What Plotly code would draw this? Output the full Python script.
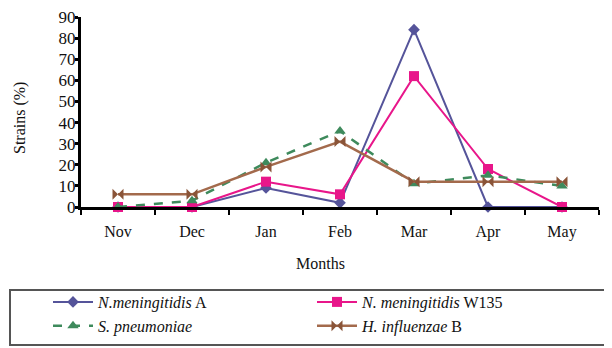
import plotly.graph_objects as go

months = ["Nov", "Dec", "Jan", "Feb", "Mar", "Apr", "May"]
nm_a = [0, 0, 9, 2, 84, 0, 0]
nm_w135 = [0, 0, 12, 6, 62, 18, 0]
s_pneu = [0, 3, 21, 36, 11, 15, 10]
h_infl = [6, 6, 19, 31, 12, 12, 12]
y_ticks = [0, 10, 20, 30, 40, 50, 60, 70, 80, 90]

FONT = "Liberation Serif"

fig = go.Figure()
fig.add_trace(go.Scatter(x=months, y=nm_a, mode="lines+markers",
    name="<i>N.meningitidis</i> A",
    line=dict(color="#55549a", width=2),
    marker=dict(symbol="diamond", size=9, color="#55549a")))
fig.add_trace(go.Scatter(x=months, y=nm_w135, mode="lines+markers",
    name="<i>N. meningitidis</i> W135",
    line=dict(color="#e8168a", width=2),
    marker=dict(symbol="square", size=10, color="#e8168a")))
fig.add_trace(go.Scatter(x=months, y=s_pneu, mode="lines+markers",
    name="<i>S. pneumoniae</i>",
    line=dict(color="#3e8a5c", width=2.5, dash="dash"),
    marker=dict(symbol="triangle-up", size=10, color="#3e8a5c")))
fig.add_trace(go.Scatter(x=months, y=h_infl, mode="lines+markers",
    name="<i>H. influenzae</i> B",
    line=dict(color="#a36a4c", width=2.5),
    marker=dict(symbol="bowtie", size=11, color="#8a5438")))

# page body has an 8px margin; work in reference coords and shift
OFF = 8
W, H = 612 - OFF, 348 - OFF
PL, PR, PT, PB = 81, 599, 17, 207  # plot area in reference pixels
L, T = PL - OFF, PT - OFF
R = W - (PR - OFF)
B = H - (PB - OFF)
pw, ph = PR - PL, PB - PT

def px(x):
    return (x - PL) / pw

def py(y):
    return (PB - y) / ph

fig.add_shape(type="rect", xref="paper", yref="paper",
    x0=px(10), x1=px(606), y0=py(290), y1=py(345),
    line=dict(color="#555555", width=2), fillcolor="rgba(0,0,0,0)")

fig.add_annotation(text="Months", xref="paper", yref="paper",
    x=px(320), y=py(263), xanchor="center", yanchor="middle", showarrow=False,
    font=dict(family=FONT, size=16, color="#111"))
fig.add_annotation(text="Strains (%)", xref="paper", yref="paper",
    x=px(20), y=py(118), xanchor="center", yanchor="middle", showarrow=False, textangle=-90,
    font=dict(family=FONT, size=16, color="#111"))

fig.update_layout(
    width=W, height=H,
    margin=dict(l=L, r=R, t=T, b=B, autoexpand=False),
    paper_bgcolor="white", plot_bgcolor="white",
    font=dict(family=FONT, color="#111"),
    showlegend=True,
    legend=dict(orientation="h", x=px(48), y=py(285), xanchor="left", yanchor="top",
        entrywidth=209, entrywidthmode="pixels",
        font=dict(family=FONT, size=16, color="#111"),
        bgcolor="rgba(0,0,0,0)", tracegroupgap=0, itemwidth=40),
    xaxis=dict(type="category", categoryarray=months, range=[-0.5, 6.5],
        showline=True, linecolor="black", linewidth=3,
        ticks="outside", tickson="boundaries", ticklen=5, tickwidth=2, tickcolor="black",
        showgrid=False, zeroline=False, ticklabelstandoff=8,
        tickfont=dict(family=FONT, size=16, color="#111")),
    yaxis=dict(range=[0, 90], tickvals=y_ticks, showline=True, linecolor="black", linewidth=3,
        ticks="outside", ticklen=3, tickwidth=3, tickcolor="black",
        showgrid=False, zeroline=False, ticklabelstandoff=-4,
        ticklabeloverflow="allow",
        tickfont=dict(family=FONT, size=17, color="#111")),
)
fig.update_traces(cliponaxis=False)

fig.write_html("out.html")
